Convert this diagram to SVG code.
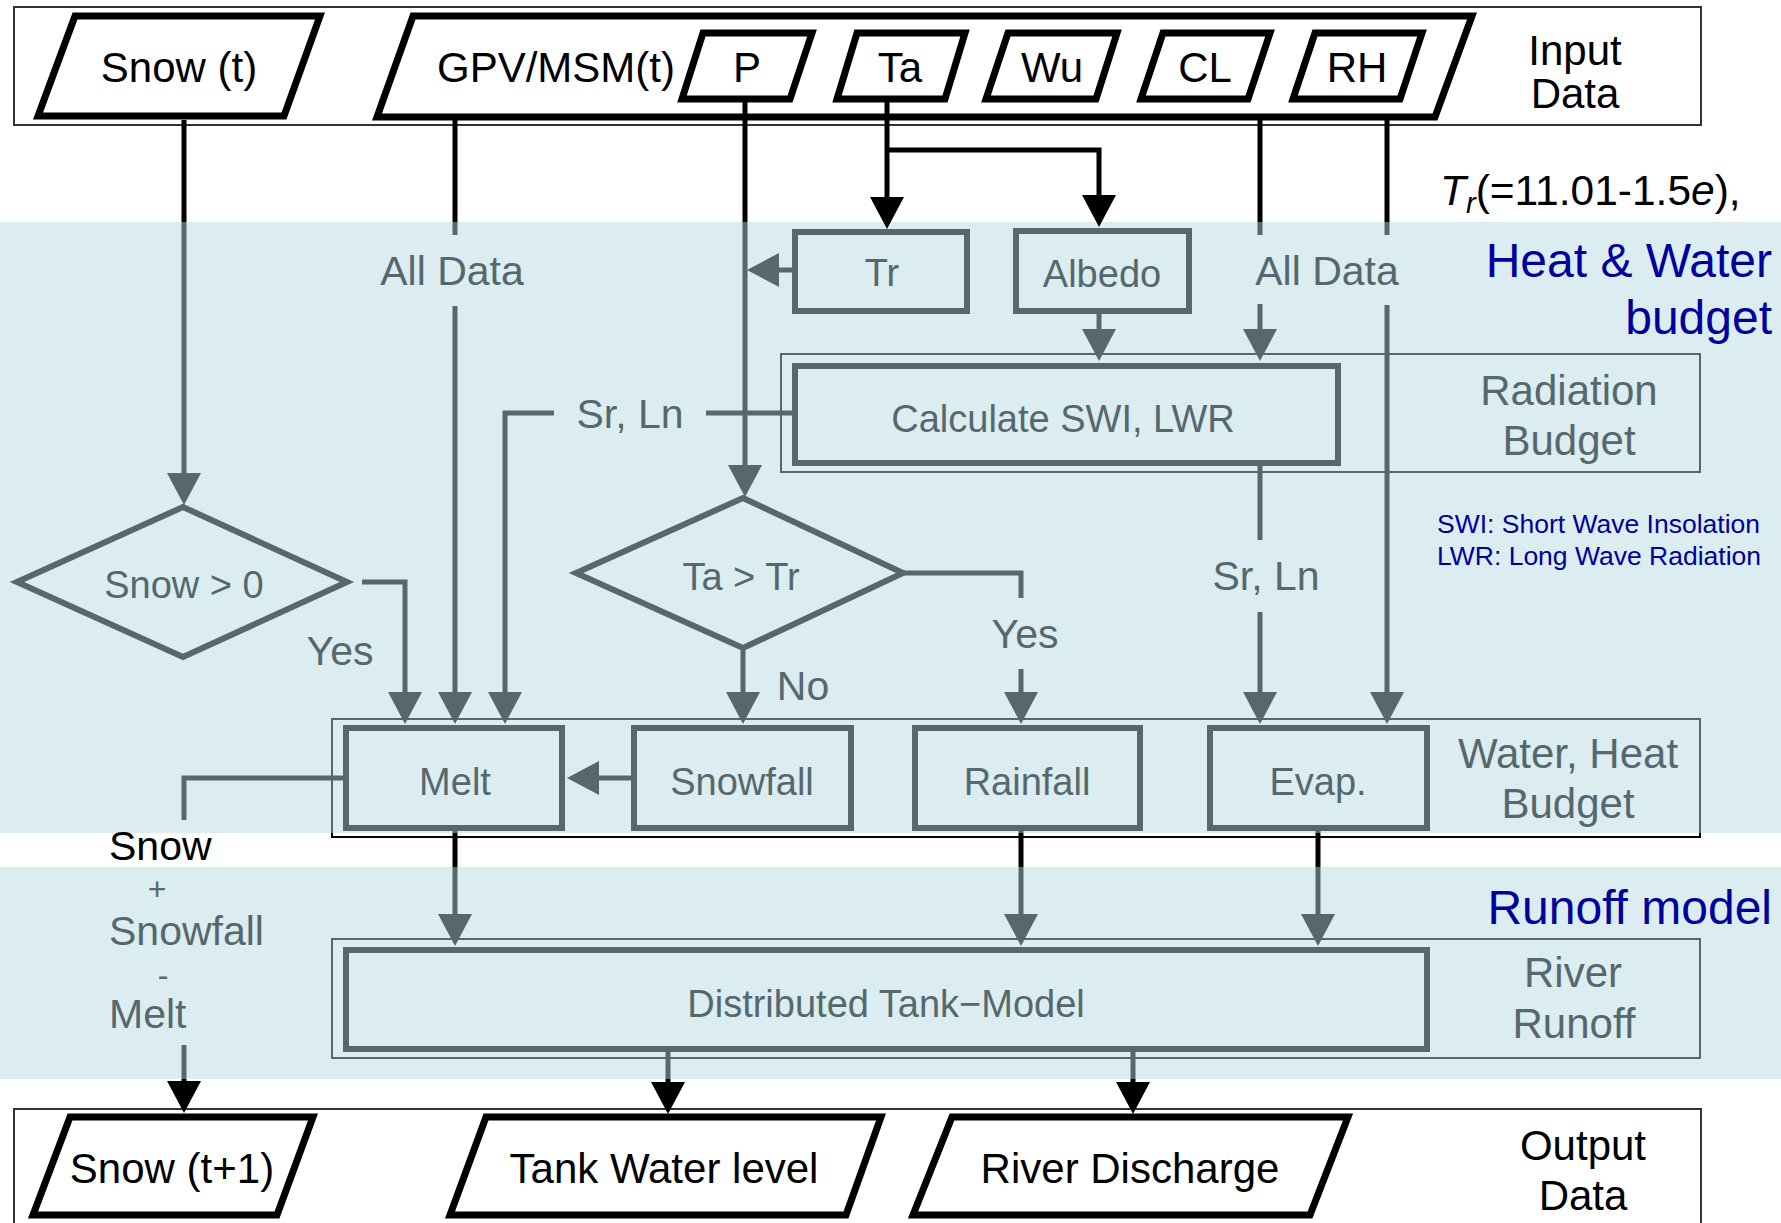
<svg xmlns="http://www.w3.org/2000/svg" width="1781" height="1223" viewBox="0 0 1781 1223">
<style>
  .band{fill:#dbedf0}
  .frameIO{fill:none;stroke:#333;stroke-width:2}
  .para{fill:#fff;stroke:#000;stroke-width:7;stroke-linejoin:miter}
  .box{fill:none;stroke:url(#ink);stroke-width:6}
  .frame{fill:none;stroke:url(#ink);stroke-width:2}
  .ln{fill:none;stroke:url(#ink);stroke-width:5;stroke-linejoin:miter}
  .ag{marker-end:url(#ag)}
  .ab{marker-end:url(#ab)}
  text{font-family:"Liberation Sans",Arial,sans-serif}
  .t-io{font-size:42px;fill:#000;text-anchor:middle}
  .t-box{font-size:38px;fill:#56686d;text-anchor:middle}
  .t-lbl{font-size:41px;fill:#56686d;text-anchor:middle}
  .t-side{font-size:42px;fill:#56686d;text-anchor:middle}
  .t-blue{font-size:48px;fill:#00009c;text-anchor:end}
  .t-leg{font-size:26.5px;fill:#00009c}
</style>
<defs>
  <linearGradient id="ink" gradientUnits="userSpaceOnUse" x1="0" y1="0" x2="0" y2="1223">
    <stop offset="0" stop-color="#000"/>
    <stop offset="0.1815" stop-color="#000"/>
    <stop offset="0.1815" stop-color="#56686d"/>
    <stop offset="0.6811" stop-color="#56686d"/>
    <stop offset="0.6811" stop-color="#000"/>
    <stop offset="0.7089" stop-color="#000"/>
    <stop offset="0.7089" stop-color="#56686d"/>
    <stop offset="0.8823" stop-color="#56686d"/>
    <stop offset="0.8823" stop-color="#000"/>
    <stop offset="1" stop-color="#000"/>
  </linearGradient>
  <marker id="ag" markerUnits="userSpaceOnUse" markerWidth="32" markerHeight="34" viewBox="0 0 32 34" refX="26" refY="17" orient="auto">
    <path d="M0,0 L32,17 L0,34 z" fill="#56686d"/>
  </marker>
  <marker id="ab" markerUnits="userSpaceOnUse" markerWidth="32" markerHeight="34" viewBox="0 0 32 34" refX="26" refY="17" orient="auto">
    <path d="M0,0 L32,17 L0,34 z" fill="#000"/>
  </marker>
</defs>

<rect x="0" y="0" width="1781" height="1223" fill="#fff"/>
<g id="bands">
  <rect class="band" x="0" y="222" width="1781" height="611"/>
  <rect class="band" x="0" y="867" width="1781" height="212"/>
</g>

<g id="input-data">
  <rect class="frameIO" x="14" y="7" width="1687" height="118"/>
  <text class="t-io" x="1575" y="65">Input</text>
  <text class="t-io" x="1575" y="108">Data</text>
</g>
<g id="output-data">
  <rect class="frameIO" x="14" y="1109" width="1687" height="130"/>
  <text class="t-io" x="1583" y="1160">Output</text>
  <text class="t-io" x="1583" y="1210">Data</text>
</g>

<g id="snow-t">
  <polygon class="para" points="75,16 320,16 284,116 38,116"/>
  <text class="t-io" x="179" y="82">Snow (t)</text>
</g>
<g id="gpv-msm">
  <polygon class="para" points="413,16 1472,16 1435,117 377,117"/>
  <text class="t-io" x="437" y="82" style="text-anchor:start">GPV/MSM(t)</text>
</g>
<g id="in-p">
  <polygon class="para" points="703,33 812,33 790,99 682,99"/>
  <text class="t-io" x="747" y="82">P</text>
</g>
<g id="in-ta">
  <polygon class="para" points="857,33 965,33 945,99 837,99"/>
  <text class="t-io" x="900" y="82">Ta</text>
</g>
<g id="in-wu">
  <polygon class="para" points="1008,33 1117,33 1096,99 986,99"/>
  <text class="t-io" x="1052" y="82">Wu</text>
</g>
<g id="in-cl">
  <polygon class="para" points="1163,33 1270,33 1248,99 1141,99"/>
  <text class="t-io" x="1205" y="82">CL</text>
</g>
<g id="in-rh">
  <polygon class="para" points="1315,33 1422,33 1400,99 1293,99"/>
  <text class="t-io" x="1357" y="82">RH</text>
</g>

<g id="formula">
  <text x="1440" y="205" style="font-size:42.5px;fill:#000"><tspan font-style="italic">T</tspan><tspan font-style="italic" font-size="29" dy="8">r</tspan><tspan dy="-8">(=11.01-1.5</tspan><tspan font-style="italic">e</tspan>),</text>
</g>
<g id="section-labels">
  <text class="t-blue" x="1772" y="277">Heat &amp; Water</text>
  <text class="t-blue" x="1772" y="334">budget</text>
  <text class="t-blue" x="1772" y="924">Runoff model</text>
  <text class="t-leg" x="1437" y="533">SWI: Short Wave Insolation</text>
  <text class="t-leg" x="1437" y="565">LWR: Long Wave Radiation</text>
</g>

<g id="radiation-budget">
  <rect class="frame" x="781" y="354" width="919" height="118"/>
  <text class="t-side" x="1569" y="405">Radiation</text>
  <text class="t-side" x="1569" y="455">Budget</text>
</g>
<g id="water-heat-budget">
  <rect class="frame" x="332" y="719" width="1368" height="118"/>
  <text class="t-side" x="1568" y="768">Water, Heat</text>
  <text class="t-side" x="1568" y="818">Budget</text>
</g>
<g id="river-runoff">
  <rect class="frame" x="332" y="939" width="1368" height="119"/>
  <text class="t-side" x="1573" y="987">River</text>
  <text class="t-side" x="1574" y="1038">Runoff</text>
</g>

<g id="tr">
  <rect class="box" x="795" y="232" width="172" height="79"/>
  <text class="t-box" x="882" y="286">Tr</text>
</g>
<g id="albedo">
  <rect class="box" x="1016" y="231" width="173" height="80"/>
  <text class="t-box" x="1102" y="287">Albedo</text>
</g>
<g id="calc">
  <rect class="box" x="795" y="366" width="543" height="97"/>
  <text class="t-box" x="1063" y="432">Calculate SWI, LWR</text>
</g>
<g id="snow-gt-0">
  <polygon class="box" points="183,507 347,582 183,657 17,582"/>
  <text class="t-box" x="184" y="598">Snow &gt; 0</text>
</g>
<g id="ta-gt-tr">
  <polygon class="box" points="743,498 903,573 743,648 576,573"/>
  <text class="t-box" x="741" y="590">Ta &gt; Tr</text>
</g>
<g id="melt">
  <rect class="box" x="346" y="728" width="216" height="100"/>
  <text class="t-box" x="455" y="795">Melt</text>
</g>
<g id="snowfall">
  <rect class="box" x="634" y="728" width="217" height="100"/>
  <text class="t-box" x="742" y="795">Snowfall</text>
</g>
<g id="rainfall">
  <rect class="box" x="915" y="728" width="225" height="100"/>
  <text class="t-box" x="1027" y="795">Rainfall</text>
</g>
<g id="evap">
  <rect class="box" x="1210" y="728" width="217" height="100"/>
  <text class="t-box" x="1318" y="795">Evap.</text>
</g>
<g id="tank-model">
  <rect class="box" x="346" y="950" width="1081" height="99"/>
  <text class="t-box" x="886" y="1017">Distributed Tank−Model</text>
</g>

<g id="snow-t1">
  <polygon class="para" points="70,1117 313,1117 277,1215 33,1215"/>
  <text class="t-io" x="172" y="1183">Snow (t+1)</text>
</g>
<g id="tank-water-level">
  <polygon class="para" points="486,1117 881,1117 846,1215 450,1215"/>
  <text class="t-io" x="664" y="1183">Tank Water level</text>
</g>
<g id="river-discharge">
  <polygon class="para" points="952,1117 1348,1117 1310,1215 913,1215"/>
  <text class="t-io" x="1130" y="1183">River Discharge</text>
</g>

<g id="connectors">
  <path class="ln ag" d="M184,120 V499"/>
  <path class="ln" d="M455,120 V235"/>
  <path class="ln ag" d="M455,306 V718"/>
  <path class="ln ag" d="M745,100 V491"/>
  <path class="ln ab" d="M887,100 V223"/>
  <path class="ln ab" d="M887,150 H1099 V221"/>
  <path class="ln ag" d="M792,270 H753"/>
  <path class="ln ag" d="M1099,314 V355"/>
  <path class="ln" d="M1260,120 V235"/>
  <path class="ln ag" d="M1260,304 V355"/>
  <path class="ln" d="M1387,120 V235"/>
  <path class="ln ag" d="M1387,305 V718"/>
  <path class="ln" d="M792,413 H706"/>
  <path class="ln ag" d="M554,413 H505 V718"/>
  <path class="ln" d="M1260,466 V540"/>
  <path class="ln ag" d="M1260,612 V718"/>
  <path class="ln ag" d="M362,582 H405 V718"/>
  <path class="ln ag" d="M743,648 V718"/>
  <path class="ln" d="M903,573 H1021 V598"/>
  <path class="ln ag" d="M1021,669 V718"/>
  <path class="ln ag" d="M631,778 H573"/>
  <path class="ln" d="M343,778 H184 V820"/>
  <path class="ln ab" d="M184,1045 V1107"/>
  <path class="ln ag" d="M455,831 V940"/>
  <path class="ln ag" d="M1021,831 V940"/>
  <path class="ln ag" d="M1318,831 V940"/>
  <path class="ln ab" d="M668,1052 V1108"/>
  <path class="ln ab" d="M1133,1052 V1108"/>
  <text class="t-lbl" x="452" y="285">All Data</text>
  <text class="t-lbl" x="1327" y="285">All Data</text>
  <text class="t-lbl" x="630" y="428">Sr, Ln</text>
  <text class="t-lbl" x="1266" y="590">Sr, Ln</text>
  <text class="t-lbl" x="340" y="665">Yes</text>
  <text class="t-lbl" x="1025" y="648">Yes</text>
  <text class="t-lbl" x="803" y="700">No</text>
  <text x="109" y="860" style="font-size:41px;fill:#000">Snow</text>
  <text class="t-lbl" x="157" y="900" style="font-size:32px">+</text>
  <text x="109" y="945" style="font-size:41px;fill:#56686d">Snowfall</text>
  <text class="t-lbl" x="163" y="986" style="font-size:32px">-</text>
  <text x="109" y="1028" style="font-size:41px;fill:#56686d">Melt</text>
</g>
</svg>
